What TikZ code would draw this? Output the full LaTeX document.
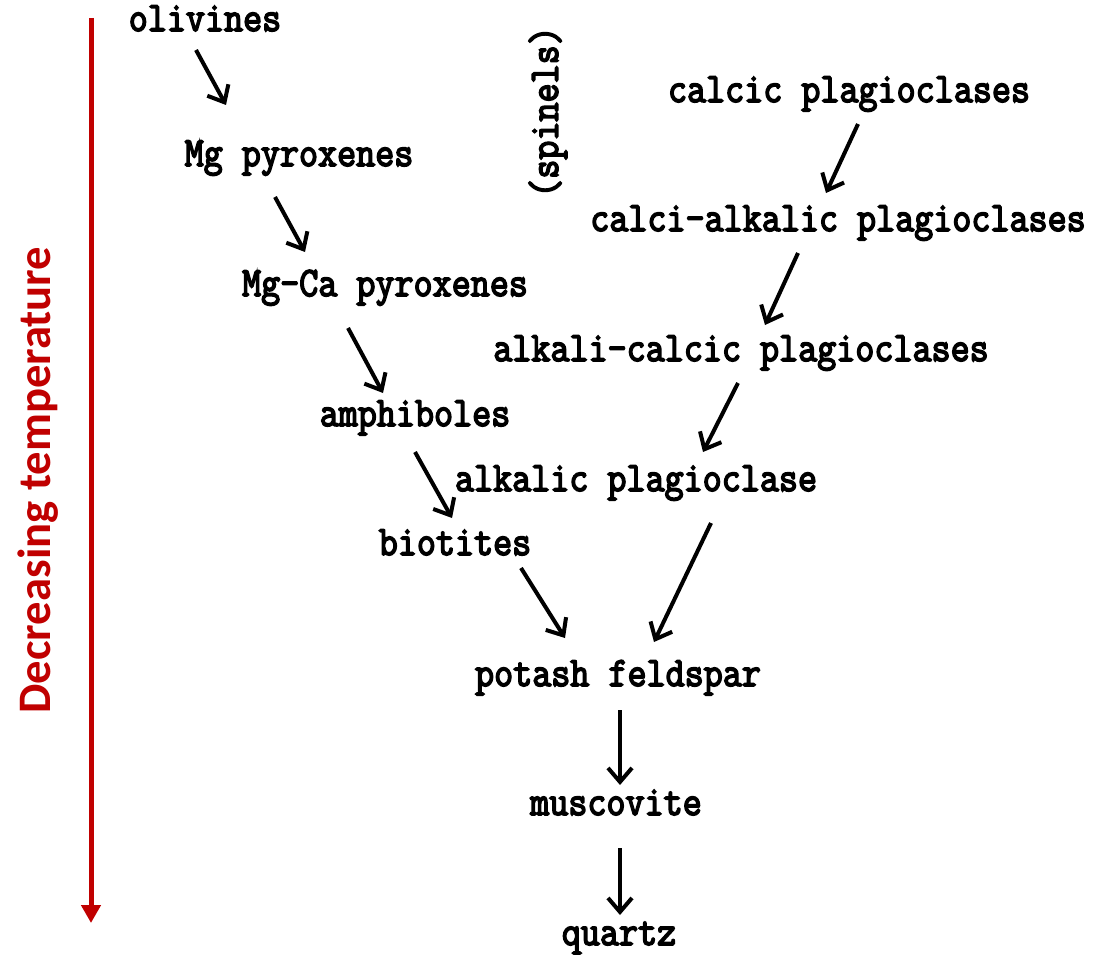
\documentclass[tikz,border=0pt]{standalone}
\usepackage{fontspec}
\usetikzlibrary{arrows.meta}
\newfontfamily\calfont{Carlito}
\newfontfamily\twfont{Latin Modern Mono}[FakeBold=4]
\definecolor{dred}{RGB}{192,0,0}
\newcommand{\twtext}[1]{\scalebox{1}[1.13]{\twfont\fontsize{37}{38}\selectfont #1}}
\begin{document}
\begin{tikzpicture}[x=1pt,y=-1pt,
  lbl/.style={inner sep=0pt, anchor=base},
  arr/.style={line width=4pt, -{Straight Barb[length=14pt,width=24pt,line width=4pt]}},
  redarr/.style={dred, line width=5pt, -{Triangle[length=18pt,width=19pt]}}]
\useasboundingbox (0,0) rectangle (1108,955);
% temperature axis
\coordinate (rtop) at (91,18);
\coordinate (rbot) at (91,923);
\draw[redarr] (rtop) -- (rbot);
\node[inner sep=0pt, rotate=90, text=dred] (temp) at (38,480)
  {\calfont\bfseries\fontsize{46.6}{50}\selectfont Decreasing temperature};
% left series
\node[lbl] (ol)   at (205,31)  {\twtext{olivines}};
\node[lbl] (mgp)  at (299,166) {\twtext{Mg pyroxenes}};
\node[lbl] (mgca) at (385,296) {\twtext{Mg-Ca pyroxenes}};
\node[lbl] (amph) at (415,426) {\twtext{amphiboles}};
\node[lbl] (bio)  at (455,555) {\twtext{biotites}};
% right series
\node[lbl] (cp)   at (849,102) {\twtext{calcic plagioclases}};
\node[lbl] (cap)  at (838,231) {\twtext{calci-alkalic plagioclases}};
\node[lbl] (acp)  at (741,361) {\twtext{alkali-calcic plagioclases}};
\node[lbl] (alk)  at (636,491) {\twtext{alkalic plagioclase}};
% common
\node[lbl] (pot)  at (618,686) {\twtext{potash feldspar}};
\node[lbl] (mus)  at (616,815) {\twtext{muscovite}};
\node[lbl] (qtz)  at (619,945) {\twtext{quartz}};
\node[inner sep=0pt, rotate=90] (sp) at (548,112) {\twtext{(spinels)}};
% connectors
\draw[arr] ([shift={(-9,19)}]ol.base)    -- ([shift={(-73,-61)}]mgp.base);
\draw[arr] ([shift={(-24,31)}]mgp.base)  -- ([shift={(-80,-44)}]mgca.base);
\draw[arr] ([shift={(-37,32)}]mgca.base) -- ([shift={(-32,-33)}]amph.base);
\draw[arr] ([shift={(0,26)}]amph.base)   -- ([shift={(-3,-37)}]bio.base);
\draw[arr] ([shift={(66,13)}]bio.base)   -- ([shift={(-53,-48)}]pot.base);
\draw[arr] ([shift={(75,32)}]alk.base)   -- ([shift={(36,-44)}]pot.base);
\draw[arr] ([shift={(2,24)}]pot.base)    -- ([shift={(4,-30)}]mus.base);
\draw[arr] ([shift={(4,33)}]mus.base)    -- ([shift={(1,-30)}]qtz.base);
\draw[arr] ([shift={(9,22)}]cp.base)     -- ([shift={(-12,-38)}]cap.base);
\draw[arr] ([shift={(-40,22)}]cap.base)  -- ([shift={(24,-36)}]acp.base);
\draw[arr] ([shift={(-3,22)}]acp.base)   -- ([shift={(67,-39)}]alk.base);
\end{tikzpicture}
\end{document}
